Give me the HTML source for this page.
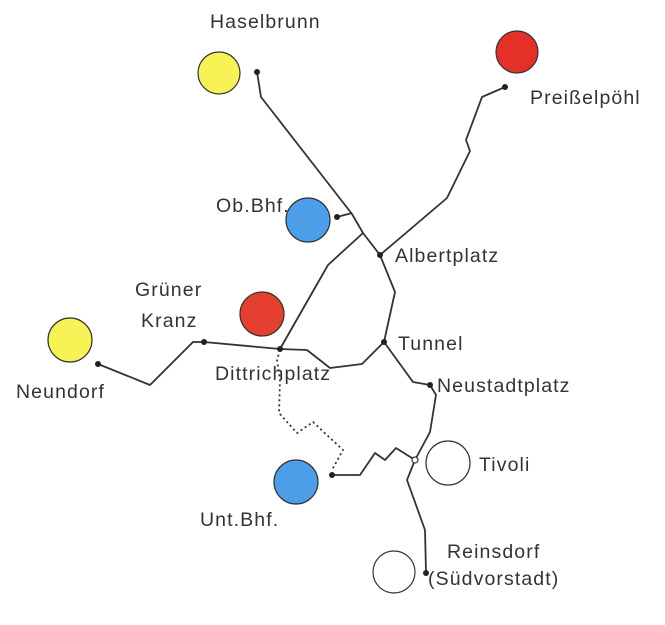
<!DOCTYPE html>
<html><head><style>
body{margin:0;background:#fff}
svg text{font-family:"Liberation Sans",sans-serif;font-size:19.5px;letter-spacing:1.1px;fill:#333}
</style></head><body>
<svg width="665" height="620" viewBox="0 0 665 620">
<g stroke="#333" stroke-width="1.8" fill="none" stroke-linejoin="round">
<circle cx="219" cy="73" r="21" fill="#f7f356" stroke-width="1.2"/>
<circle cx="517" cy="52" r="21" fill="#e5302a" stroke-width="1.2"/>
<circle cx="308" cy="220" r="22" fill="#4c9ee8" stroke-width="1.2"/>
<circle cx="262" cy="314" r="22" fill="#e5402f" stroke-width="1.2"/>
<circle cx="70" cy="340" r="22" fill="#f7f356" stroke-width="1.2"/>
<circle cx="296" cy="482" r="22" fill="#4c9ee8" stroke-width="1.2"/>
<circle cx="448" cy="463" r="22" fill="#fff" stroke-width="1.2"/>
<circle cx="394" cy="572" r="21" fill="#fff" stroke-width="1.2"/>
<polyline points="257,72 261,97 352,214 363,233 380,255 395,292 384,342"/>
<polyline points="337,217 352,213"/>
<polyline points="363,233 328,265 280,349"/>
<polyline points="505,87 482,97 466,140 470,151 447,198 380,255"/>
<polyline points="98,364 150,385 193,342 204,342 280,349 307,350 330,368 362,364 384,342 413,382 430,385 436,395 430,432 415,460 407,480 425,530 426,573"/>
<polyline points="332,475 350,475 360,475 375,453 385,460 396,448 415,460"/>
<polyline points="280,350 277,360 280,380 279,413 297,433 313,422 343,450 332,470" stroke-dasharray="2,3"/>
<circle cx="415" cy="460" r="3" fill="#fff" stroke-width="1.2"/>
</g>
<g fill="#222">
<circle cx="257" cy="72" r="3"/><circle cx="505" cy="87" r="3"/><circle cx="337" cy="217" r="3"/>
<circle cx="380" cy="255" r="3"/><circle cx="384" cy="342" r="3"/><circle cx="280" cy="349" r="3"/>
<circle cx="204" cy="342" r="3"/><circle cx="98" cy="364" r="3"/><circle cx="430" cy="385" r="3"/>
<circle cx="332" cy="475" r="3"/><circle cx="426" cy="573" r="3"/>
</g>
<text x="210" y="28">Haselbrunn</text>
<text x="530" y="104">Preißelpöhl</text>
<text x="216" y="212">Ob.Bhf.</text>
<text x="395" y="262">Albertplatz</text>
<text x="135" y="296">Grüner</text>
<text x="141" y="327">Kranz</text>
<text x="16" y="398">Neundorf</text>
<text x="215" y="380">Dittrichplatz</text>
<text x="398" y="350">Tunnel</text>
<text x="437" y="392">Neustadtplatz</text>
<text x="479" y="471">Tivoli</text>
<text x="200" y="526">Unt.Bhf.</text>
<text x="447" y="558">Reinsdorf</text>
<text x="428" y="585">(Südvorstadt)</text>
</svg>
</body></html>
